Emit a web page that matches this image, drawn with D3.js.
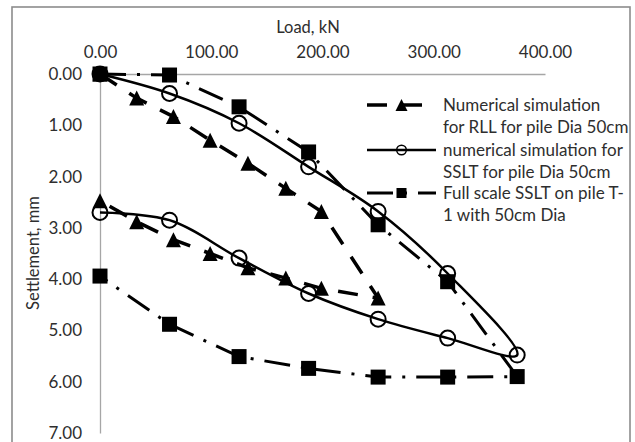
<!DOCTYPE html>
<html>
<head>
<meta charset="utf-8">
<script src="https://cdn.jsdelivr.net/npm/d3@7"></script>
<style>
  html, body { margin: 0; padding: 0; background: #fff; }
  svg { display: block; }
  text { font-family: Lato, "Open Sans", sans-serif; fill: #2e2e2e; }
</style>
</head>
<body>
<svg id="chart" width="635" height="442"></svg>
<script>
// ---- data ----
const xTicks = [0, 100, 200, 300, 400];
const yTicks = [0, 1, 2, 3, 4, 5, 6, 7];
const xTitle = "Load, kN";
const yTitle = "Settlement, mm";

const rllLoad   = [0, 33, 66, 99, 133, 167, 199, 250, 199, 167, 133, 99, 66, 33, 0];
const rllSettle = [0, 0.47, 0.83, 1.29, 1.74, 2.23, 2.68, 4.37, 4.18, 3.98, 3.78, 3.50, 3.23, 2.88, 2.47];

const numLoad   = [0, 62.5, 125, 187.5, 250, 312.5, 375, 312.5, 250, 187.5, 125, 62.5, 0];
const numSettle = [0, 0.38, 0.96, 1.81, 2.68, 3.89, 5.48, 5.15, 4.78, 4.28, 3.59, 2.85, 2.70];

const fullLoad   = [0, 62.5, 125, 187.5, 250, 312.5, 375, 312.5, 250, 187.5, 125, 62.5, 0];
const fullSettle = [0, 0.02, 0.64, 1.52, 2.94, 4.05, 5.90, 5.91, 5.91, 5.74, 5.51, 4.88, 3.94];

const legendLabels = [
  ["Numerical simulation", "for RLL for pile Dia 50cm"],
  ["numerical simulation for", "SSLT for pile Dia 50cm"],
  ["Full scale SSLT on pile T-", "1 with 50cm Dia"]
];

// ---- layout ----
const svg = d3.select("#chart");
const x = d3.scaleLinear().domain([0, 400]).range([100, 545]);
const y = d3.scaleLinear().domain([0, 7]).range([74, 433]);

svg.append("rect").attr("x", 12).attr("y", 7).attr("width", 618).attr("height", 436)
  .attr("fill", "#fff").attr("stroke", "#8c8c8c").attr("stroke-width", 1.6);

// axes
const xAxis = svg.append("g").attr("transform", `translate(0,${y(0)})`)
  .call(d3.axisTop(x).tickValues(xTicks).tickFormat(d3.format(".2f")).tickSize(0).tickPadding(15));
const yAxis = svg.append("g").attr("transform", `translate(${x(0)},0)`)
  .call(d3.axisLeft(y).tickValues(yTicks).tickFormat(d3.format(".2f")).tickSize(0).tickPadding(18));
[xAxis, yAxis].forEach(g => {
  g.select(".domain").attr("stroke", "#a6a6a6").attr("stroke-width", 1.3);
  g.selectAll("text").style("font-family", "Lato, sans-serif").style("font-size", "17px").attr("fill", "#2e2e2e");
});
xAxis.selectAll(".tick text").attr("dy", "0.35em").attr("y", -22);

svg.append("text").attr("x", 308).attr("y", 27).attr("dy", "0.35em")
  .attr("text-anchor", "middle").style("font-size", "16.5px").text(xTitle);
svg.append("text").attr("transform", `translate(33,253) rotate(-90)`).attr("dy", "0.35em")
  .attr("text-anchor", "middle").style("font-size", "16.5px").text(yTitle);

// series
const toPts = (a, b) => a.map((v, i) => [x(v), y(b[i])]);
const lineLin = d3.line();
const lineSmooth = d3.line().curve(d3.curveCatmullRom.alpha(0.5));

const rllPts = toPts(rllLoad, rllSettle);
const numPts = toPts(numLoad, numSettle);
const fullPts = toPts(fullLoad, fullSettle);

const styles = {
  rll:  { dash: "20,15", width: 3.5 },
  num:  { dash: null, width: 2.5 },
  full: { dash: "26,11,3,11", width: 3 }
};

function tri(s) { const h = s; return `M0,${-h/2}L${s/2},${h/2}L${-s/2},${h/2}Z`; }

function drawMarker(g, kind, cx, cy, big) {
  if (kind === "rll") {
    const s = big ? 15 : 12;
    g.append("path").attr("d", tri(s)).attr("transform", `translate(${cx},${cy})`).attr("fill", "#000");
  } else if (kind === "num") {
    g.append("circle").attr("cx", cx).attr("cy", cy).attr("r", big ? 7.5 : 4.8)
      .attr("fill", "none").attr("stroke", "#000").attr("stroke-width", big ? 2 : 1.5);
  } else {
    const s = big ? 15 : 10;
    g.append("rect").attr("x", cx - s/2).attr("y", cy - s/2).attr("width", s).attr("height", s).attr("fill", "#000");
  }
}

const plot = svg.append("g");
[["full", fullPts, lineLin], ["rll", rllPts, lineLin], ["num", numPts, lineSmooth]].forEach(([k, pts, gen]) => {
  plot.append("path").attr("d", gen(pts)).attr("fill", "none").attr("stroke", "#000")
    .attr("stroke-width", styles[k].width).attr("stroke-dasharray", styles[k].dash);
});
[["full", fullPts], ["rll", rllPts], ["num", numPts]].forEach(([k, pts]) => {
  pts.forEach(p => drawMarker(plot, k, p[0], p[1], true));
});

// legend
const leg = svg.append("g");
const legY = [105, 150, 193];
["rll", "num", "full"].forEach((k, i) => {
  const ly = legY[i];
  leg.append("line").attr("x1", 367).attr("x2", 436).attr("y1", ly).attr("y2", ly)
    .attr("stroke", "#000").attr("stroke-width", styles[k].width).attr("stroke-dasharray", styles[k].dash);
  drawMarker(leg, k, 401.5, ly, false);
  const t = leg.append("text").attr("x", 443).attr("y", ly).style("font-size", "17px");
  legendLabels[i].forEach((s, j) => {
    t.append("tspan").attr("x", 443).attr("dy", j === 0 ? "0.35em" : "22px").text(s);
  });
});
</script>
</body>
</html>
